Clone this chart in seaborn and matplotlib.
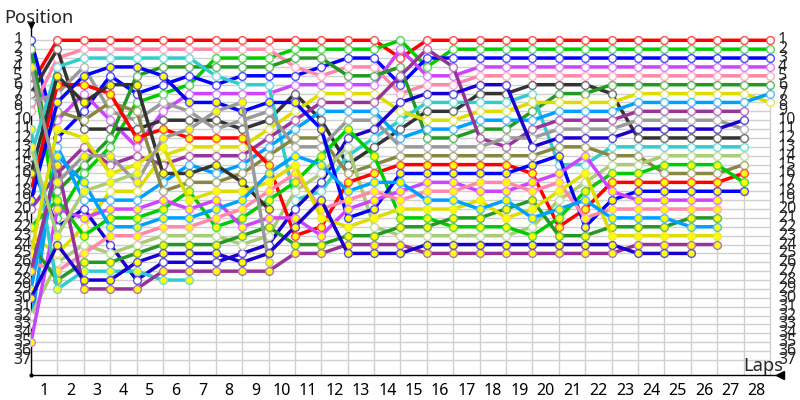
import seaborn as sns
import matplotlib.pyplot as plt
import matplotlib.colors as mcolors
import pandas as pd

# running order per lap, first entry is position 1, None = empty place on the grid
lap00 = ["blue", "forest", "green", "grayY", "purple", "red", "dark", "gray", "pink", None,
         "cyanY", None, "lgreenY", "cyan", "dblue", "darkY", "olive", "redY", "blueY", "violet",
         None, "greenY", "yellow", "forestY", "yellowY", "pinkY", "violetY", None, "lblueY", "dblueY",
         None, "lgreen", "lblue", None, "purpleY"]
lap01 = ["red", "dark", "pink", "cyan", "darkY", "redY", "gray", "blueY", "olive", "purple",
         "yellowY", "blue", "lblue", "lblueY", "violetY", "violet", "grayY", "forest", "greenY", "purpleY",
         "green", "dblue", "lgreenY", "dblueY", "yellow", "lgreen", "pinkY", "forestY", "cyanY"]
lap02 = ["red", "pink", "cyan", "gray", "blueY", "redY", "purple", "darkY", "blue", "olive",
         "dark", "yellowY", "violet", "grayY", "forest", "green", "lblueY", "lgreenY", "lblue", "dblue",
         "purpleY", "yellow", "greenY", "lgreen", "pinkY", "forestY", "cyanY", "dblueY", "violetY"]
lap03 = ["red", "pink", "cyan", "blueY", "blue", "darkY", "redY", "olive", "gray", "purple",
         "dark", "forest", "green", "grayY", "violet", "yellowY", "lgreenY", "yellow", "lblue", "purpleY",
         "greenY", "lblueY", "pinkY", "dblue", "lgreen", "forestY", "cyanY", "dblueY", "violetY"]
lap04 = ["red", "pink", "cyan", "blueY", "forest", "darkY", "blue", "green", "olive", "gray",
         "dark", "redY", "purple", "violet", "yellowY", "lgreenY", "grayY", "yellow", "lblue", "purpleY",
         "greenY", "lblueY", "pinkY", "lgreen", "forestY", "dblueY", "cyanY", "dblue", "violetY"]
lap05 = ["red", "pink", "cyan", "forest", "blueY", "blue", "green", "gray", "purple", "dark",
         "redY", "grayY", "yellowY", "yellow", "violet", "darkY", "lblue", "olive", "purpleY", "greenY",
         "lblueY", "pinkY", "lgreen", "forestY", "dblueY", "dblue", "violetY", "cyanY"]
lap06 = ["red", "pink", "cyan", "forest", "blue", "green", "purple", "blueY", "gray", "dark",
         "grayY", "redY", "yellow", "violet", "lblue", "darkY", "olive", "greenY", "yellowY", "purpleY",
         "lblueY", "pinkY", "lgreen", "forestY", "dblueY", "dblue", "violetY", "cyanY"]
lap07 = ["red", "pink", "green", "forest", "cyan", "blue", "purple", "blueY", "grayY", "dark",
         "gray", "redY", "yellow", "violet", "darkY", "lblue", "olive", "yellowY", "purpleY", "lblueY",
         "pinkY", "greenY", "lgreen", "forestY", "dblueY", "dblue", "violetY"]
lap08 = ["red", "pink", "green", "forest", "blue", "cyan", "purple", "grayY", "blueY", "gray",
         "dark", "redY", "yellow", "violet", "lblue", "olive", "darkY", "yellowY", "lblueY", "pinkY",
         "greenY", "purpleY", "forestY", "lgreen", "dblue", "dblueY", "violetY"]
lap09 = ["red", "pink", "green", "forest", "blue", "cyan", "purple", "blueY", "gray", "dark",
         "yellow", "violet", "lblue", "olive", "redY", "lblueY", "yellowY", "pinkY", "greenY", "darkY",
         "purpleY", "forestY", "lgreen", "dblue", "dblueY", "grayY", "violetY"]
lap10 = ["red", "green", "forest", "pink", "blue", "purple", "dark", "blueY", "yellow", "violet",
         "lblue", "olive", "gray", "lblueY", "yellowY", "pinkY", "greenY", "lgreen", "cyan", "dblue",
         "purpleY", "dblueY", "redY", "forestY", "violetY"]
lap11 = ["red", "green", "forest", "blue", "pink", "purple", "yellow", "violet", "lblue", "dark",
         "blueY", "olive", "gray", "greenY", "lblueY", "lgreen", "dblue", "cyan", "dblueY", "pinkY",
         "yellowY", "redY", "purpleY", "forestY", "violetY"]
lap12 = ["red", "green", "blue", "pink", "forest", "purple", "yellow", "violet", "lblue", "gray",
         "greenY", "dblue", "lgreen", "cyan", "dark", "olive", "redY", "lblueY", "pinkY", "purpleY",
         "blueY", "yellowY", "forestY", "violetY", "dblueY"]
lap13 = ["red", "green", "blue", "pink", "forest", "purple", "yellow", "violet", "lblue", "gray",
         "dblue", "cyan", "dark", "greenY", "olive", "redY", "lblueY", "pinkY", "purpleY", "blueY",
         "yellowY", "lgreen", "forestY", "violetY", "dblueY"]
lap14 = ["green", "purple", "red", "forest", "violet", "blue", "pink", "dblue", "yellow", "cyan",
         "dark", "lblue", "gray", "olive", "redY", "blueY", "lblueY", "purpleY", "pinkY", "yellowY",
         "greenY", "forestY", "lgreen", "violetY", "dblueY"]
lap15 = ["red", "violet", "blue", "green", "purple", "pink", "dblue", "cyan", "dark", "yellow",
         "lblue", "forest", "gray", "olive", "redY", "blueY", "purpleY", "pinkY", "lblueY", "yellowY",
         "greenY", "forestY", "lgreen", "dblueY", "violetY"]
lap16 = ["red", "green", "blue", "violet", "purple", "pink", "dblue", "cyan", "dark", "yellow",
         "lblue", "forest", "gray", "olive", "redY", "blueY", "purpleY", "pinkY", "lblueY", "yellowY",
         "forestY", "greenY", "lgreen", "dblueY", "violetY"]
lap17 = ["red", "green", "blue", "purple", "pink", "dblue", "dark", "cyan", "yellow", "lblue",
         "forest", "violet", "gray", "olive", "redY", "blueY", "pinkY", "purpleY", "yellowY", "lblueY",
         "forestY", "greenY", "lgreen", "dblueY", "violetY"]
lap18 = ["red", "green", "blue", "purple", "pink", "dblue", "dark", "cyan", "yellow", "lblue",
         "forest", "gray", "violet", "olive", "redY", "blueY", "pinkY", "purpleY", "lblueY", "forestY",
         "yellowY", "greenY", "lgreen", "dblueY", "violetY"]
lap19 = ["red", "green", "blue", "purple", "pink", "dark", "cyan", "yellow", "forest", "lblue",
         "violet", "gray", "dblue", "olive", "blueY", "redY", "purpleY", "pinkY", "forestY", "yellowY",
         "lblueY", "lgreen", "greenY", "dblueY", "violetY"]
lap20 = ["red", "green", "blue", "purple", "pink", "dark", "forest", "yellow", "lblue", "violet",
         "gray", "dblue", "olive", "blueY", "cyan", "purpleY", "pinkY", "yellowY", "lgreen", "lblueY",
         "greenY", "redY", "forestY", "dblueY", "violetY"]
lap21 = ["red", "green", "blue", "purple", "pink", "dark", "forest", "yellow", "lblue", "violet",
         "gray", "dblue", "olive", "purpleY", "cyan", "yellowY", "lgreen", "greenY", "lblueY", "redY",
         "pinkY", "blueY", "forestY", "dblueY", "violetY"]
lap22 = ["red", "green", "blue", "purple", "pink", "forest", "dark", "yellow", "lblue", "violet",
         "gray", "dblue", "cyan", "olive", "lgreen", "greenY", "redY", "purpleY", "blueY", "pinkY",
         "lblueY", "forestY", "yellowY", "dblueY", "violetY"]
lap23 = ["red", "green", "blue", "purple", "pink", "forest", "yellow", "lblue", "violet", "gray",
         "dblue", "dark", "cyan", "olive", "lgreen", "greenY", "redY", "blueY", "purpleY", "pinkY",
         "lblueY", "forestY", "yellowY", "violetY", "dblueY"]
lap24 = ["red", "green", "blue", "purple", "pink", "forest", "yellow", "lblue", "violet", "gray",
         "dblue", "dark", "cyan", "lgreen", "greenY", "olive", "redY", "blueY", "purpleY", "pinkY",
         "lblueY", "forestY", "yellowY", "violetY", "dblueY"]
lap25 = ["red", "green", "blue", "purple", "pink", "forest", "yellow", "lblue", "violet", "gray",
         "dblue", "dark", "cyan", "lgreen", "greenY", "olive", "redY", "blueY", "purpleY", "pinkY",
         "forestY", "lblueY", "yellowY", "violetY", "dblueY"]
lap26 = ["red", "green", "blue", "purple", "pink", "forest", "yellow", "lblue", "violet", "gray",
         "dblue", "dark", "cyan", "lgreen", "greenY", "olive", "redY", "blueY", "purpleY", "pinkY",
         "forestY", "lblueY", "yellowY", "violetY"]
lap27 = ["red", "green", "blue", "purple", "pink", "forest", "yellow", "lblue", "violet", "dblue",
         "gray", "dark", "cyan", "lgreen", "olive", "redY", "greenY", "blueY"]
lap28 = ["red", "green", "blue", "purple", "pink", "forest", "lblue", "yellow"]

all_laps = [lap00, lap01, lap02, lap03, lap04, lap05, lap06, lap07, lap08, lap09, lap10, lap11, lap12, lap13, lap14,
            lap15, lap16, lap17, lap18, lap19, lap20, lap21, lap22, lap23, lap24, lap25, lap26, lap27, lap28]

colors = {"red": "#ff0000", "green": "#00cc00", "blue": "#0000ff", "purple": "#cc44ff", "pink": "#ff88aa",
          "dark": "#333333", "forest": "#229922", "cyan": "#33cccc", "yellow": "#dddd00", "lblue": "#00a0ff",
          "violet": "#993399", "gray": "#999999", "dblue": "#1a00cc", "olive": "#888844", "lgreen": "#aacc77"}

positions = list(range(1, 38))
lap_labels = list(range(1, 29))

rows = []
for lap, order in enumerate(all_laps):
    for i, car in enumerate(order):
        if car is not None:
            rows.append({"lap": lap, "pos": i + 1, "car": car})
df = pd.DataFrame(rows)


def paler(col, amount=0.3):
    # marker rims are a bit lighter than the line in the original
    r, g, b = mcolors.to_rgb(col)
    return (r + (1 - r) * amount, g + (1 - g) * amount, b + (1 - b) * amount)


sns.set_style("white")
plt.rcParams["font.family"] = ["Noto Sans", "DejaVu Sans"]

fig = plt.figure(figsize=(8, 4), dpi=100)
# pixel layout of the original: x 31..780, y 25..375
ax = fig.add_axes([31 / 800, 25 / 400, 749 / 800, 350 / 400])
ax.set_xlim(0, 28.38)
ax.set_ylim(38.69, -0.72)

ax.hlines(positions, 0, 28, color="#d0d0d0", lw=1.0, zorder=1)
ax.vlines(range(0, 29), 1, 38.69, color="#d0d0d0", lw=1.0, zorder=1)

# white cars first, yellow marker cars over them
for name, col in colors.items():
    sub = df[df.car == name]
    sns.lineplot(data=sub, x="lap", y="pos", color=col, lw=2.5, marker="o", ms=5.6, mew=1.0,
                 markerfacecolor="white", markeredgecolor=paler(col), errorbar=None, legend=False, ax=ax, zorder=3)
for name, col in colors.items():
    sub = df[df.car == name + "Y"]
    if sub.empty:
        continue
    sns.lineplot(data=sub, x="lap", y="pos", color=col, lw=2.5, marker="o", ms=5.6, mew=1.0,
                 markerfacecolor="#ffff00", markeredgecolor=paler(col), errorbar=None, legend=False, ax=ax, zorder=4)

ax.set_xlabel("")
ax.set_ylabel("")
ax.set_yticks([])
ax.set_xticks([x - 0.5 for x in lap_labels], labels=lap_labels, fontsize=11.5)
ax.tick_params(axis="x", length=0, pad=6, colors="black")

for p in positions:
    ax.text(-0.68, p, str(p), fontsize=11.5, ha="left", va="center", clip_on=False)
    ax.text(28.3, p, str(p), fontsize=11.5, ha="left", va="center", clip_on=False)

for s in ["top", "right"]:
    ax.spines[s].set_visible(False)
for s in ["left", "bottom"]:
    ax.spines[s].set_visible(True)
    ax.spines[s].set_color("black")
    ax.spines[s].set_linewidth(1.0)

ax.plot([0], [1], marker="v", color="black", ms=5, transform=ax.transAxes, clip_on=False, zorder=6)
ax.plot([1], [0], marker="<", color="black", ms=6, transform=ax.transAxes, clip_on=False, zorder=6)
ax.plot([0], [0], marker="o", color="black", ms=2, transform=ax.transAxes, clip_on=False, zorder=6)

fig.text(4 / 800, 1 - 18 / 400, "Position", fontsize=13.2, ha="left", va="center")
fig.text(743 / 800, 1 - 366 / 400, "Laps", fontsize=13.2, ha="left", va="center")

fig.savefig("out.png", dpi=100, facecolor="white")
plt.close(fig)
